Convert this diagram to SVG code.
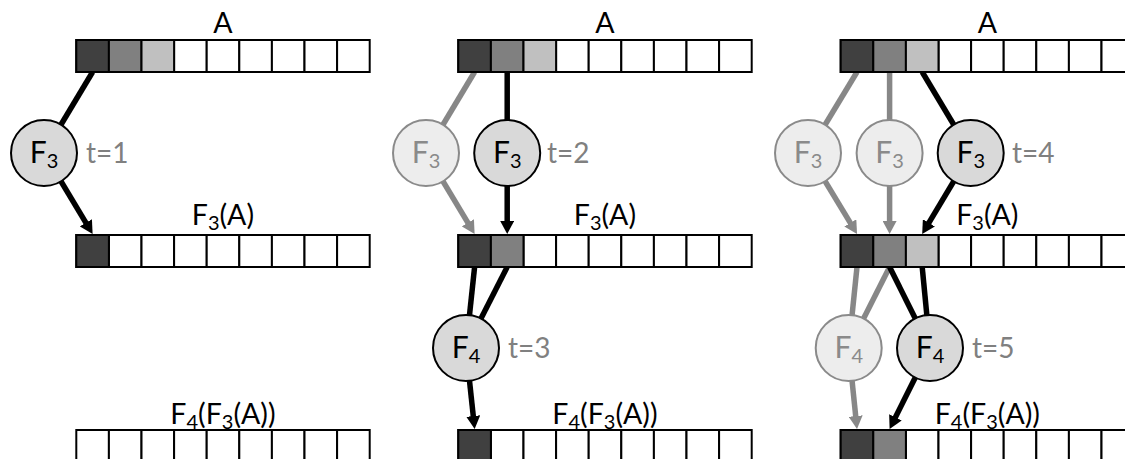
<svg xmlns="http://www.w3.org/2000/svg" xmlns:xlink="http://www.w3.org/1999/xlink" width="1125" height="459" viewBox="0 0 1125 459">
<style>
.cell{fill:#fff;stroke:#000;stroke-width:2}
.c1{fill:#404040}
.c2{fill:#808080}
.c3{fill:#c0c0c0}
.lbl{font-family:Lato,"Liberation Sans",sans-serif;font-size:28.5px;fill:#000;text-anchor:middle}
.nt{font-family:Lato,"Liberation Sans",sans-serif;font-size:30px;text-anchor:middle}
.tt{font-family:Lato,"Liberation Sans",sans-serif;font-size:28px;fill:#808080}
.sub{font-size:20px}
.on{fill:#d9d9d9;stroke:#000;stroke-width:2}
.off{fill:#ededed;stroke:#8a8a8a;stroke-width:2}
.ontx{fill:#000}
.offtx{fill:#8a8a8a}
.kb{stroke:#000;stroke-width:5.5;fill:none}
.kg{stroke:#878787;stroke-width:5.5;fill:none}
.ab{marker-end:url(#hb)}
.ag{marker-end:url(#hg)}
</style>
<defs>
<marker id="hb" markerUnits="userSpaceOnUse" markerWidth="14" markerHeight="14" refX="5" refY="7" orient="auto">
<path d="M0,0 L13,7 L0,14 z" fill="#000"/>
</marker>
<marker id="hg" markerUnits="userSpaceOnUse" markerWidth="14" markerHeight="14" refX="5" refY="7" orient="auto">
<path d="M0,0 L13,7 L0,14 z" fill="#878787"/>
</marker>
<g id="row">
<rect class="cell" x="0" y="0" width="32.6" height="32"/>
<rect class="cell" x="32.6" y="0" width="32.6" height="32"/>
<rect class="cell" x="65.2" y="0" width="32.6" height="32"/>
<rect class="cell" x="97.8" y="0" width="32.6" height="32"/>
<rect class="cell" x="130.4" y="0" width="32.6" height="32"/>
<rect class="cell" x="163" y="0" width="32.6" height="32"/>
<rect class="cell" x="195.6" y="0" width="32.6" height="32"/>
<rect class="cell" x="228.2" y="0" width="32.6" height="32"/>
<rect class="cell" x="260.8" y="0" width="32.6" height="32"/>
</g>
</defs>
<rect width="1125" height="459" fill="#fff"/>

<g id="connectors">
<!-- panel 1 -->
<line class="kb" x1="92.6" y1="72" x2="44" y2="153"/>
<line class="kb ab" x1="44" y1="153" x2="88.5" y2="227.1"/>
<!-- panel 2 -->
<line class="kg" x1="474.6" y1="72" x2="426" y2="153"/>
<line class="kg ag" x1="426" y1="153" x2="470.5" y2="227.1"/>
<line class="kb" x1="507.2" y1="72" x2="507.2" y2="153"/>
<line class="kb ab" x1="507.2" y1="153" x2="507.2" y2="226"/>
<line class="kb" x1="474.6" y1="267" x2="466" y2="348"/>
<line class="kb" x1="507.2" y1="267" x2="466" y2="348"/>
<line class="kb ab" x1="466" y1="348" x2="473.8" y2="421"/>
<!-- panel 3 -->
<line class="kg" x1="857" y1="72" x2="808" y2="153"/>
<line class="kg ag" x1="808" y1="153" x2="852.9" y2="227.2"/>
<line class="kg" x1="889.6" y1="72" x2="889.6" y2="153"/>
<line class="kg ag" x1="889.6" y1="153" x2="889.6" y2="226"/>
<line class="kb" x1="922.2" y1="72" x2="970.7" y2="153"/>
<line class="kb ab" x1="970.7" y1="153" x2="926.3" y2="227.1"/>
<line class="kg" x1="857" y1="267" x2="848.7" y2="348"/>
<line class="kg" x1="889.6" y1="267" x2="848.7" y2="348"/>
<line class="kg ag" x1="848.7" y1="348" x2="856.2" y2="421"/>
<line class="kb" x1="889.6" y1="267" x2="930" y2="348"/>
<line class="kb" x1="922.2" y1="267" x2="930" y2="348"/>
<line class="kb ab" x1="930" y1="348" x2="893.2" y2="421.8"/>
</g>

<!-- panel 1 arrays -->
<g id="p1-A">
<use xlink:href="#row" href="#row" x="76.3" y="40"/>
<rect class="cell c1" x="76.3" y="40" width="32.6" height="32"/>
<rect class="cell c2" x="108.9" y="40" width="32.6" height="32"/>
<rect class="cell c3" x="141.5" y="40" width="32.6" height="32"/>
<text class="lbl" x="222.9" y="33">A</text>
</g>
<g id="p1-F3A">
<use xlink:href="#row" href="#row" x="76.3" y="235"/>
<rect class="cell c1" x="76.3" y="235" width="32.6" height="32"/>
<text class="lbl" x="222.9" y="225">F<tspan class="sub" dy="5">3</tspan><tspan dy="-5">(A)</tspan></text>
</g>
<g id="p1-F4F3A">
<use xlink:href="#row" href="#row" x="76.3" y="430"/>
<text class="lbl" x="222.9" y="424">F<tspan class="sub" dy="5">4</tspan><tspan dy="-5">(F</tspan><tspan class="sub" dy="5">3</tspan><tspan dy="-5">(A))</tspan></text>
</g>
<g id="p1-F3">
<circle class="on" cx="44" cy="153" r="33"/>
<text class="nt ontx" x="44" y="163">F<tspan class="sub" dy="5">3</tspan></text>
<text class="tt" x="86" y="163">t=1</text>
</g>

<!-- panel 2 arrays -->
<g id="p2-A">
<use xlink:href="#row" href="#row" x="458.3" y="40"/>
<rect class="cell c1" x="458.3" y="40" width="32.6" height="32"/>
<rect class="cell c2" x="490.9" y="40" width="32.6" height="32"/>
<rect class="cell c3" x="523.5" y="40" width="32.6" height="32"/>
<text class="lbl" x="604.9" y="33">A</text>
</g>
<g id="p2-F3A">
<use xlink:href="#row" href="#row" x="458.3" y="235"/>
<rect class="cell c1" x="458.3" y="235" width="32.6" height="32"/>
<rect class="cell c2" x="490.9" y="235" width="32.6" height="32"/>
<text class="lbl" x="604.9" y="225">F<tspan class="sub" dy="5">3</tspan><tspan dy="-5">(A)</tspan></text>
</g>
<g id="p2-F4F3A">
<use xlink:href="#row" href="#row" x="458.3" y="430"/>
<rect class="cell c1" x="458.3" y="430" width="32.6" height="32"/>
<text class="lbl" x="604.9" y="424">F<tspan class="sub" dy="5">4</tspan><tspan dy="-5">(F</tspan><tspan class="sub" dy="5">3</tspan><tspan dy="-5">(A))</tspan></text>
</g>
<g id="p2-F3a">
<circle class="off" cx="426" cy="153" r="33"/>
<text class="nt offtx" x="426" y="163">F<tspan class="sub" dy="5">3</tspan></text>
</g>
<g id="p2-F3b">
<circle class="on" cx="507.2" cy="153" r="33"/>
<text class="nt ontx" x="507.2" y="163">F<tspan class="sub" dy="5">3</tspan></text>
<text class="tt" x="547" y="163">t=2</text>
</g>
<g id="p2-F4">
<circle class="on" cx="466" cy="348" r="33"/>
<text class="nt ontx" x="466" y="358">F<tspan class="sub" dy="5">4</tspan></text>
<text class="tt" x="508" y="358">t=3</text>
</g>

<!-- panel 3 arrays -->
<g id="p3-A">
<use xlink:href="#row" href="#row" x="840.7" y="40"/>
<rect class="cell c1" x="840.7" y="40" width="32.6" height="32"/>
<rect class="cell c2" x="873.3" y="40" width="32.6" height="32"/>
<rect class="cell c3" x="905.9" y="40" width="32.6" height="32"/>
<text class="lbl" x="987.3" y="33">A</text>
</g>
<g id="p3-F3A">
<use xlink:href="#row" href="#row" x="840.7" y="235"/>
<rect class="cell c1" x="840.7" y="235" width="32.6" height="32"/>
<rect class="cell c2" x="873.3" y="235" width="32.6" height="32"/>
<rect class="cell c3" x="905.9" y="235" width="32.6" height="32"/>
<text class="lbl" x="987.3" y="225">F<tspan class="sub" dy="5">3</tspan><tspan dy="-5">(A)</tspan></text>
</g>
<g id="p3-F4F3A">
<use xlink:href="#row" href="#row" x="840.7" y="430"/>
<rect class="cell c1" x="840.7" y="430" width="32.6" height="32"/>
<rect class="cell c2" x="873.3" y="430" width="32.6" height="32"/>
<text class="lbl" x="987.3" y="424">F<tspan class="sub" dy="5">4</tspan><tspan dy="-5">(F</tspan><tspan class="sub" dy="5">3</tspan><tspan dy="-5">(A))</tspan></text>
</g>
<g id="p3-F3a">
<circle class="off" cx="808" cy="153" r="33"/>
<text class="nt offtx" x="808" y="163">F<tspan class="sub" dy="5">3</tspan></text>
</g>
<g id="p3-F3b">
<circle class="off" cx="889.6" cy="153" r="33"/>
<text class="nt offtx" x="889.6" y="163">F<tspan class="sub" dy="5">3</tspan></text>
</g>
<g id="p3-F3c">
<circle class="on" cx="970.7" cy="153" r="33"/>
<text class="nt ontx" x="970.7" y="163">F<tspan class="sub" dy="5">3</tspan></text>
<text class="tt" x="1012" y="163">t=4</text>
</g>
<g id="p3-F4a">
<circle class="off" cx="848.7" cy="348" r="33"/>
<text class="nt offtx" x="848.7" y="358">F<tspan class="sub" dy="5">4</tspan></text>
</g>
<g id="p3-F4b">
<circle class="on" cx="930" cy="348" r="33"/>
<text class="nt ontx" x="930" y="358">F<tspan class="sub" dy="5">4</tspan></text>
<text class="tt" x="972" y="358">t=5</text>
</g>
</svg>
